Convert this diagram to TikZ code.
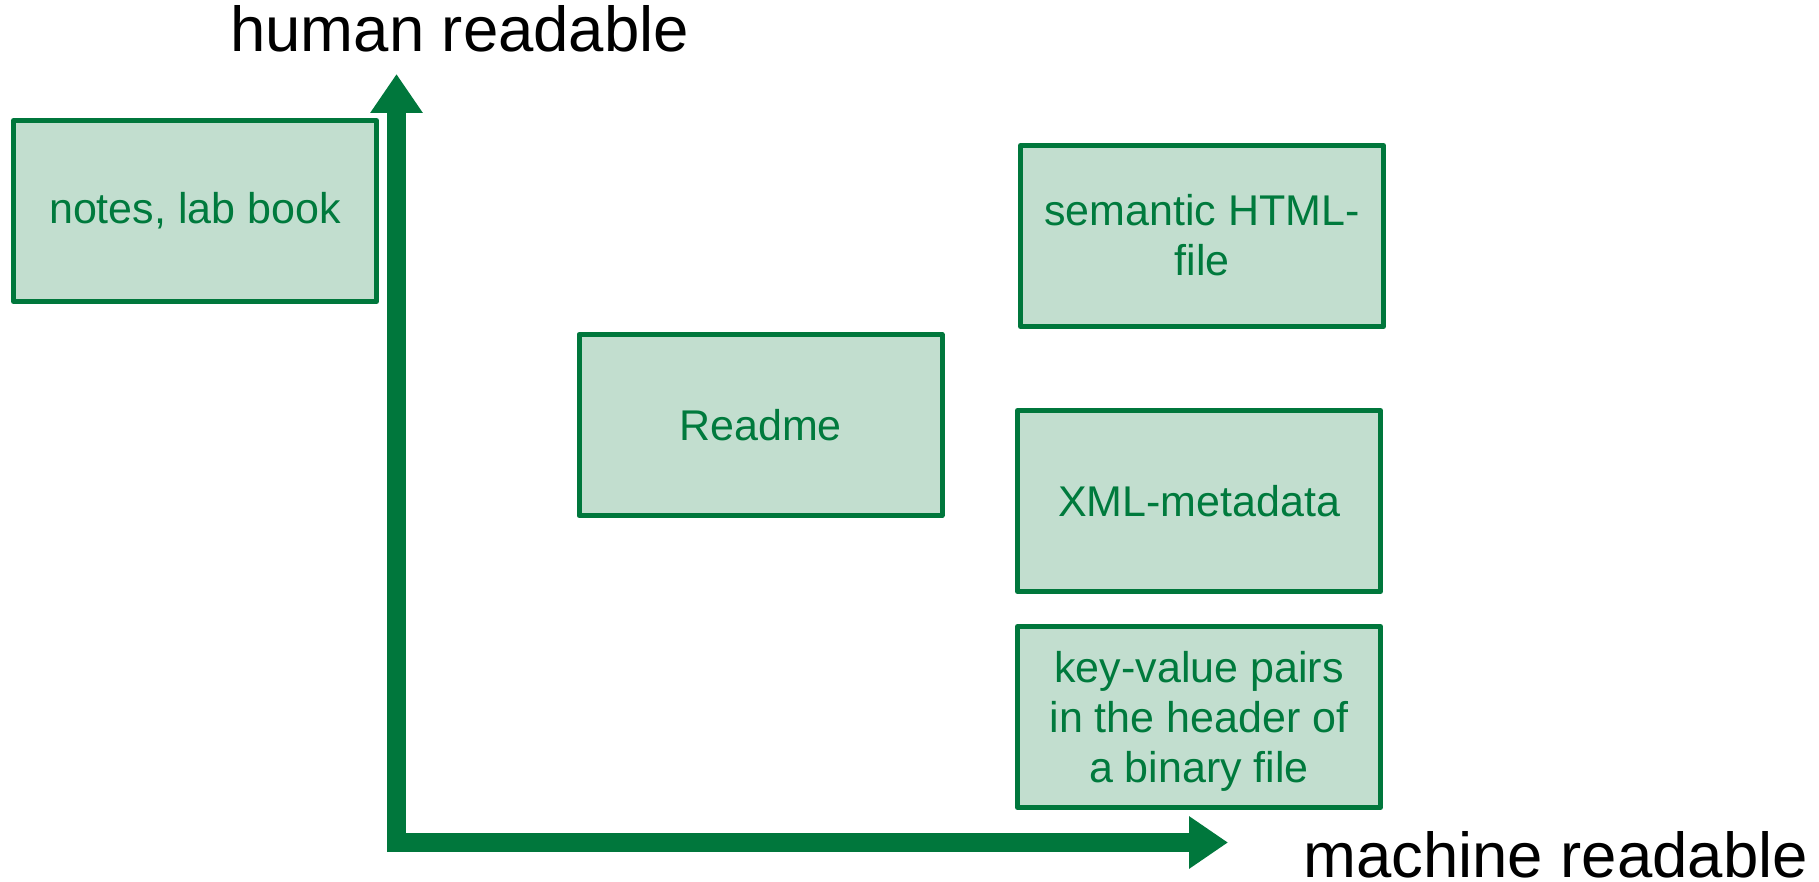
\documentclass[tikz,border=0pt]{standalone}
\usepackage{fontspec}
\setmainfont{Liberation Sans}
\usetikzlibrary{arrows.meta}

\definecolor{axisgreen}{HTML}{00773C}
\definecolor{boxfill}{HTML}{C2DECF}
\definecolor{boxtext}{HTML}{007A3D}

% invisible struts: full line box above the first and below the last line
\newcommand\linetop{\rule{0pt}{39pt}}
\newcommand\linebot{\rule[-9pt]{0pt}{9pt}}

\tikzset{
  catbox/.style={draw=axisgreen, fill=boxfill, line width=5pt, line join=round,
    rectangle, minimum width=363pt, minimum height=181pt, inner sep=0pt,
    align=center, text=boxtext, font=\fontsize{43}{50}\selectfont},
  axislabel/.style={text=black, inner sep=0pt, font=\fontsize{63.5}{70}\selectfont},
  axisline/.style={draw=axisgreen, line width=19pt, line cap=butt,
    -{Triangle[width=50pt,length=39pt]}}
}

\begin{document}
\begin{tikzpicture}[x=1pt,y=-1pt]
  \useasboundingbox (0,0) rectangle (1819,882);

  % axes
  \coordinate (hstart) at (389,842.5);
  \coordinate (hend)   at (1228,842.5);
  \coordinate (vstart) at (396.5,852);
  \coordinate (vend)   at (396.5,74);
  \draw[axisline] (hstart) -- (hend);
  \draw[axisline] (vstart) -- (vend);

  % axis titles
  \node[axislabel, anchor=base west] (ylabel) at (230,52) {human readable};
  \node[axislabel, anchor=base west] (xlabel) at (1303,877) {machine readable};

  % categories
  \node[catbox] (notes)    at (195,211)    {notes, lab book};
  \node[catbox] (readme)   at (760.5,425)  {Readme};
  \node[catbox] (html)     at (1202,236)   {\linetop semantic HTML-\\file\linebot};
  \node[catbox] (xml)      at (1199,501)   {XML-metadata};
  \node[catbox] (keyvalue) at (1199,717)   {\linetop key-value pairs\\in the header of\\a binary file\linebot};
\end{tikzpicture}
\end{document}
